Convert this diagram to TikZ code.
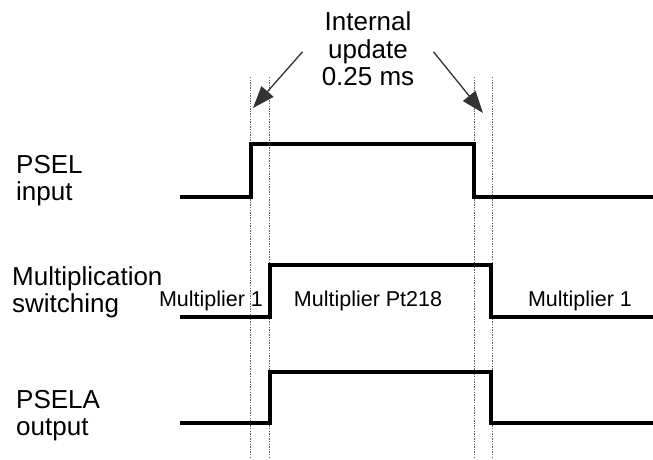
\documentclass[tikz,border=0pt]{standalone}
\usepackage{fontspec}
\setmainfont{Liberation Sans}
\usetikzlibrary{arrows.meta,positioning}

\begin{document}
\begin{tikzpicture}[x=1pt, y=-1pt, >={Triangle[length=22pt,width=16pt]},
  every node/.style={inner sep=0pt},
  lbl/.style={font=\fontsize{26}{27}\selectfont, align=left, anchor=north west},
  sublbl/.style={font=\fontsize{21.5}{24}\selectfont, anchor=base},
  wave/.style={line width=4pt, line join=miter},
  guide/.style={line width=0.9pt, black!60, dash pattern=on 1.3pt off 1.3pt},
  pointer/.style={->, line width=1.3pt, black!80}]
  \useasboundingbox (0,0) rectangle (653,459);
  \foreach \x in {250,269,474,492}
    \draw[guide] (\x,77) -- (\x,459);
  \draw[wave] (180,197) -- (251,197) -- (251,144) -- (474,144) -- (474,197) -- (653,197);
  \draw[wave] (180,317) -- (270,317) -- (270,265) -- (491,265) -- (491,317) -- (653,317);
  \draw[wave] (180,423) -- (270,423) -- (270,372) -- (491,372) -- (491,423) -- (653,423);
  \node[lbl] (psel) at (16,155.5) {PSEL\\input};
  \node[lbl] (mult) at (12,266) {Multiplication\\switching};
  \node[lbl] (psela) at (16,390) {PSELA\\output};
  \node[sublbl] (mulA) at (211,306) {Multiplier 1};
  \node[sublbl] (mulB) at (368,306) {Multiplier Pt218};
  \node[sublbl] (mulC) at (580,306) {Multiplier 1};
  \node[font=\fontsize{26}{27.5}\selectfont, align=center, anchor=north, inner xsep=19pt]
    (upd) at (368,11.5) {Internal\\update\\0.25 ms};
  \coordinate (tipL) at (253,108);
  \coordinate (tipR) at (483,113);
  \draw[pointer] ([yshift=-3pt]upd.west) -- (tipL);
  \draw[pointer] ([yshift=-3pt]upd.east) -- (tipR);
\end{tikzpicture}
\end{document}
